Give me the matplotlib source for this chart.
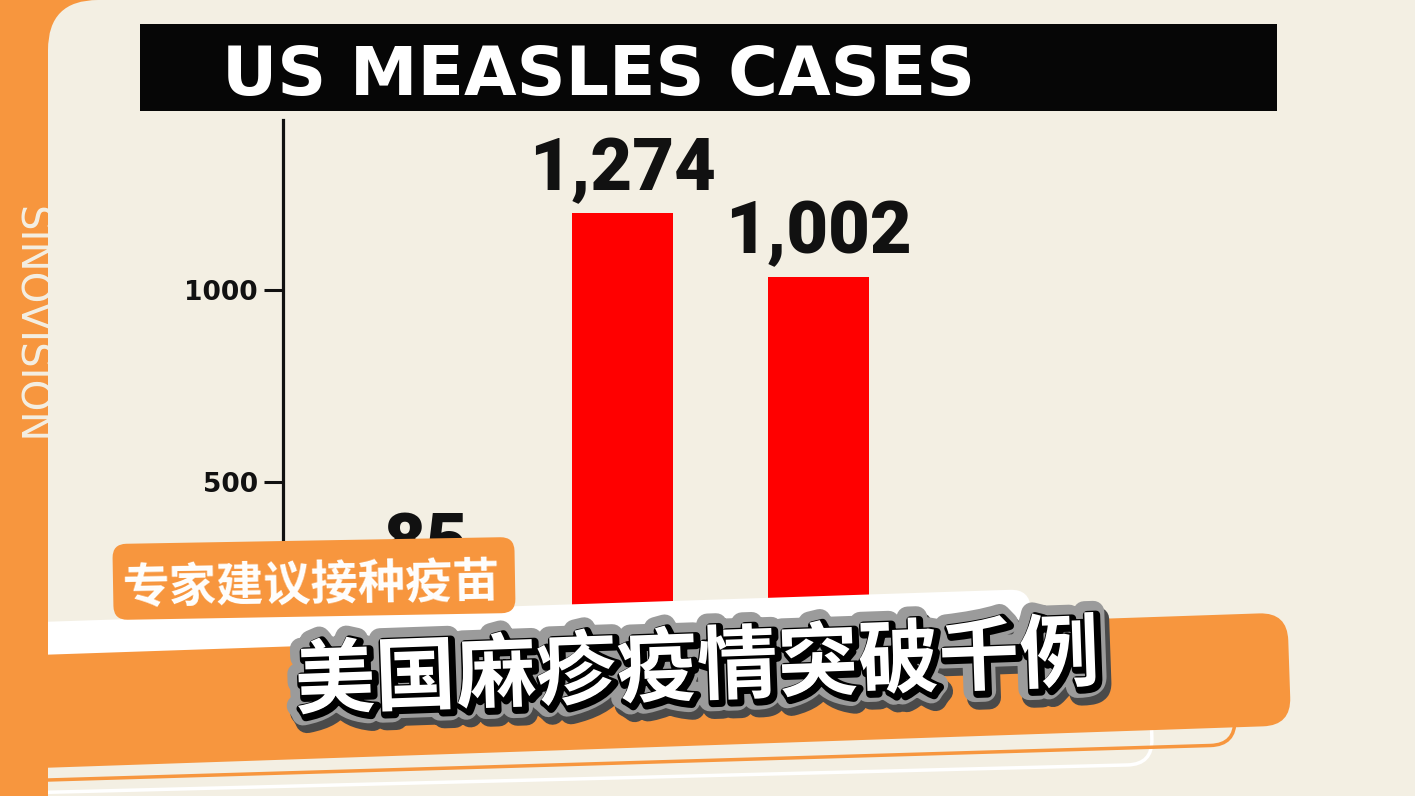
import matplotlib
matplotlib.use('Agg')
import matplotlib.pyplot as plt
import matplotlib.patheffects as pe
from matplotlib.patches import FancyBboxPatch, Rectangle
from matplotlib.transforms import Affine2D

# 数据 (the frame catches the bars mid-animation, so drawn heights differ from the printed values)
years = ['2000', '2019', '2025']
cases_text = ['85', '1,274', '1,002']
drawn_heights = [220, 1200, 1035]
y_ticks = [500, 1000]

title = 'US MEASLES CASES'
tag_text = '专家建议接种疫苗'
headline = '美国麻疹疫情突破千例'
watermark = 'SINOVISION'

ORANGE = '#F7963E'
CREAM = '#F3EFE3'
RED = '#FF0000'

W, H = 1415, 796
fig = plt.figure(figsize=(W / 100, H / 100), dpi=100, facecolor=ORANGE)


def rrect(ax, x0, y0, w, h, angle, r, clip=None, **kw):
    # rounded box in pixel coords, tilted counter-clockwise by angle (deg)
    p = FancyBboxPatch((x0, y0), w, h, boxstyle=f'round,pad=0,rounding_size={r}', **kw)
    p.set_transform(Affine2D().rotate_deg_around(x0, y0 + h / 2, -angle) + ax.transData)
    ax.add_patch(p)
    if clip is not None:
        p.set_clip_path(clip)
    return p


# фон
bg = fig.add_axes([0, 0, 1, 1], zorder=0)
bg.set_xlim(0, W)
bg.set_ylim(H, 0)
bg.axis('off')
bg.add_patch(FancyBboxPatch((48, 0), 1500, 900, boxstyle='round,pad=0,rounding_size=50',
                            fc=CREAM, ec='none'))
bg.add_patch(Rectangle((140, 24), 1137, 87, fc='#060606', ec='none'))
bg.text(222, 95, title, color='white', fontsize=49, fontweight='bold', ha='left', va='baseline')
bg.text(29, 325, watermark, rotation=-90, ha='center', va='center', color=CREAM,
        fontsize=29, fontweight='normal')

# график
ax = fig.add_axes([283 / W, 1 - 674 / H, (1277 - 283) / W, (674 - 120) / H], zorder=1)
ax.patch.set_visible(False)
ax.bar(years, drawn_heights, width=0.515, color=RED)
ax.set_xlim(-0.73, 4.34)
ax.set_ylim(0, 1443)
for s in ['top', 'right', 'bottom']:
    ax.spines[s].set_visible(False)
ax.spines['left'].set_linewidth(2.3)
ax.spines['left'].set_color('#111111')
ax.set_yticks(y_ticks)
ax.set_yticklabels([str(t) for t in y_ticks], fontsize=19, fontweight='bold', color='#111111')
ax.tick_params(axis='y', length=14, width=2.2, pad=4, color='#111111')
ax.tick_params(axis='x', bottom=False, labelbottom=False)

for i, (h, lab) in enumerate(zip(drawn_heights, cases_text)):
    ax.annotate(lab, (i, h), xytext=(0, 17), textcoords='offset points', ha='center',
                va='baseline', fontsize=52, fontweight=900, family='Roboto',
                color='#111111', annotation_clip=False)

# надписи из видео
ov = fig.add_axes([0, 0, 1, 1], zorder=2)
ov.set_xlim(0, W)
ov.set_ylim(H, 0)
ov.axis('off')
ov.patch.set_visible(False)
panel = Rectangle((48, 0), W, H, transform=ov.transData)

rrect(ov, -20, 624, 1052, 80, 1.9, 20, clip=panel, fc='white', ec='none')
rrect(ov, -20, 724, 1172, 70, 1.45, 25, clip=panel, fc='none', ec='white', lw=2.5)
rrect(ov, -20, 712, 1255, 70, 1.7, 25, clip=panel, fc='none', ec=ORANGE, lw=2.5)
rrect(ov, -20, 657, 1310, 113, 1.95, 28, clip=panel, fc=ORANGE, ec='none')
rrect(ov, 113, 544, 402, 76, 1.0, 14, fc=ORANGE, ec='none')

ov.text(311, 586, tag_text, rotation=1, ha='center', va='center', color='white',
        fontsize=34, fontweight='bold', family=['Noto Sans CJK SC', 'DejaVu Sans'])

ov.text(697, 670, headline, rotation=2, ha='center', va='center', color='white',
        fontsize=58, fontweight='black', family=['Noto Sans CJK SC', 'DejaVu Sans'],
        path_effects=[pe.Stroke(linewidth=17, foreground='#4a4a4a', offset=(3, -5)),
                      pe.Stroke(linewidth=16, foreground='#9b9b9b'),
                      pe.Stroke(linewidth=6, foreground='black', offset=(2, -2)),
                      pe.Normal()])

fig.savefig('out.png', dpi=100, facecolor=fig.get_facecolor())
